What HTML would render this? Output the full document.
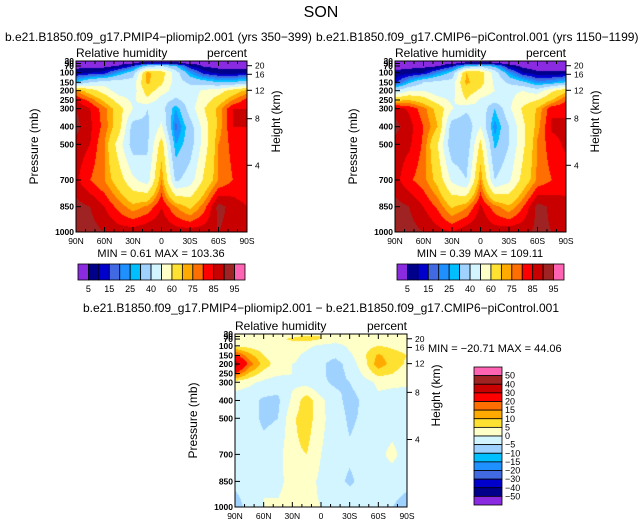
<!DOCTYPE html>
<html><head><meta charset="utf-8">
<style>
body{margin:0;background:#fff;width:643px;height:526px;overflow:hidden;position:relative;font-family:"Liberation Sans",sans-serif}
canvas{position:absolute}
svg{position:absolute;left:0;top:0}
</style></head>
<body>
<canvas id="c1"></canvas>
<canvas id="c2"></canvas>
<canvas id="c3"></canvas>
<svg id="ov" width="643" height="526"></svg>
<script>
// ---- data ----
const lats = ["90N","75N","60N","45N","30N","15N","0","15S","30S","45S","60S","75S","90S"];
const levels = [30,50,70,100,150,200,250,300,400,500,700,850,1000];
const latTicks = ["90N","60N","30N","0","30S","60S","90S"];
const pTicks = [30,50,70,100,150,200,250,300,400,500,700,850,1000];
const hTicks = [20,16,12,8,4];
const rhLevels = [5,10,15,20,25,30,40,50,60,70,75,80,85,90,95];
const rhLabels = ["5","15","25","40","60","75","85","95"];
const diffLevels = [-50,-40,-30,-20,-15,-10,-5,0,5,10,15,20,30,40,50];
const diffLabels = ["50","40","30","20","15","10","5","0","\u22125","\u221210","\u221215","\u221220","\u221230","\u221240","\u221250"];
const rhPlio = [
[2,2,2,2,2,2,2,2,2,2,2,2,2],
[3,3,3,3,5,10,12,8,4,3,3,3,3],
[3,3,3,5,15,35,40,30,10,4,3,3,3],
[8,10,12,25,35,72,65,45,25,12,8,8,8],
[30,40,45,45,45,72,62,45,38,35,30,30,35],
[75,65,55,45,45,65,55,45,45,52,55,65,72],
[85,78,68,55,48,58,45,38,45,55,65,75,82],
[90,85,77,65,50,40,45,25,45,60,72,85,85],
[92,86,78,65,35,38,52,18,35,55,72,85,85],
[88,85,75,55,35,38,65,25,35,55,75,82,85],
[86,80,75,65,52,45,75,38,45,62,75,80,80],
[92,90,85,78,72,76,85,75,68,78,92,88,85],
[92,92,90,88,88,90,90,88,88,88,90,88,85]];
const rhCtrl = [
[1,1,1,1,1,1,1,1,1,1,1,1,1],
[2,2,2,2,4,8,10,7,3,2,2,2,2],
[3,3,3,4,12,30,36,27,8,3,2,2,2],
[6,8,10,22,33,70,65,46,24,10,6,6,6],
[12,28,40,43,44,72,64,48,38,32,22,24,30],
[40,50,50,44,45,66,58,50,48,50,45,58,68],
[68,70,65,54,48,60,48,44,48,55,60,70,80],
[88,84,77,67,51,42,48,30,48,62,71,84,84],
[92,87,80,70,34,32,50,22,40,58,73,86,86],
[88,86,79,60,32,32,63,28,40,58,76,83,86],
[87,81,77,67,48,40,75,40,48,64,76,80,82],
[92,90,85,79,69,74,86,77,71,80,92,89,87],
[93,92,90,87,85,89,90,88,89,89,91,90,88]];
const rhDiff = [
[2,2,2,2,2,2,2,2,2,2,2,2,2],
[2,2,2,2,4,6,5,3,2,2,3,2,2],
[2,2,2,4,6,7,5,3,2,3,5,4,3],
[4,3,2,2,2,1,-1,-2,1,3,5,4,3],
[22,12,5,2,1,-1,-3,-4,-1,4,11,7,5],
[36,18,8,2,0,-1,-4,-7,-3,3,13,8,4],
[20,9,3,1,0,-2,-4,-7,-4,1,7,5,2],
[2,1,-1,-3,-1,-2,-4,-6,-5,-2,1,1,1],
[-2,-3,-6,-6,1,8,1,-3,-7,-4,-1,-2,-3],
[-2,-3,-6,-5,4,8,1,-2,-6,-4,-1,-2,-2],
[-2,-2,-3,-2,4,5,0,-2,-4,-3,-1,1,-2],
[-2,-1,0,-2,3,2,-1,-3,-6,-3,-1,-2,-3],
[-10,-1,0,1,3,1,0,-1,-1,-1,-2,-5,-8]];
// ---- styling ----
const cols = ["#8A2BE2","#00008B","#0000CD","#4169E1","#1E90FF","#00BFFF","#A0D2FF","#D2F5FF","#FFFFC8","#FFE132","#FFAA00","#FF6E00","#FF0000","#C80000","#A02323","#FF64B4"];
const pOff = {30:0,50:2.5,70:5,100:11.7,150:21.3,200:29.7,250:39,300:47.7,400:65.7,500:83.3,700:119,850:145.7,1000:171};
const hOff = {20:4.7,16:13.3,12:29.3,8:57.7,4:104.3};
const NS="http://www.w3.org/2000/svg";
const ov=document.getElementById('ov');
function el(tag,attrs,txt){const e=document.createElementNS(NS,tag);for(const k in attrs)e.setAttribute(k,attrs[k]);if(txt!==undefined)e.textContent=txt;ov.appendChild(e);return e;}
function hex(c){return [parseInt(c.substr(1,2),16),parseInt(c.substr(3,2),16),parseInt(c.substr(5,2),16)];}
function colorFor(v,lv){let i=0;while(i<lv.length&&v>=lv[i])i++;return cols[i];}
function levelY(k,h){return pOff[levels[k]]*h/171;}
function drawField(id,x,y,w,h,grid,lv){
  const c=document.getElementById(id);c.width=w;c.height=h;c.style.left=x+'px';c.style.top=y+'px';
  const ctx=c.getContext('2d');const img=ctx.createImageData(w,h);
  const nL=lats.length,nP=levels.length;
  for(let yi=0;yi<h;yi++){
    let yy=yi+0.5,k=0;while(k<nP-2&&levelY(k+1,h)<yy)k++;
    const y0=levelY(k,h),y1=levelY(k+1,h);let fy=(yy-y0)/(y1-y0);fy=Math.max(0,Math.min(1,fy));
    for(let xi=0;xi<w;xi++){
      const fx=(xi+0.5)/w*(nL-1);let j=Math.min(nL-2,Math.floor(fx));const tx=fx-j;
      const v=(grid[k][j]*(1-tx)+grid[k][j+1]*tx)*(1-fy)+(grid[k+1][j]*(1-tx)+grid[k+1][j+1]*tx)*fy;
      const rgb=hex(colorFor(v,lv));const o=(yi*w+xi)*4;
      img.data[o]=rgb[0];img.data[o+1]=rgb[1];img.data[o+2]=rgb[2];img.data[o+3]=255;
    }
  }
  ctx.putImageData(img,0,0);
}
function drawAxes(x,y,w,h,tag){
  el('rect',{x:x,y:y,width:w,height:h,fill:'none',stroke:'#000','stroke-width':1,});
  pTicks.forEach(p=>{const yy=y+pOff[p]*h/171;
    el('line',{x1:x,x2:x+5,y1:yy,y2:yy,stroke:'#000','stroke-width':1});
    el('text',{x:x-2,y:yy+3,'font-size':8.5,'text-anchor':'end','font-weight':'bold',},String(p));});
  hTicks.forEach(hh=>{const yy=y+hOff[hh]*h/171;
    el('line',{x1:x+w,x2:x+w+5,y1:yy,y2:yy,stroke:'#000','stroke-width':1});
    el('text',{x:x+w+8,y:yy+3,'font-size':8.5,},String(hh));});
  for(let i=0;i<=18;i++){const xx=x+w*i/18,len=(i%3===0)?5:3;
    el('line',{x1:xx,x2:xx,y1:y+h,y2:y+h-len,stroke:'#000','stroke-width':1});
    el('line',{x1:xx,x2:xx,y1:y,y2:y+len,stroke:'#000','stroke-width':1});}
  latTicks.forEach((t,i)=>{el('text',{x:x+w*i/6,y:y+h+12,'font-size':8.5,'text-anchor':'middle',},t);});
  el('text',{x:0,y:0,'font-size':12,'text-anchor':'middle',transform:`translate(${x-38},${y+h/2}) rotate(-90)`,},'Pressure (mb)');
  el('text',{x:0,y:0,'font-size':12,'text-anchor':'middle',transform:`translate(${x+w+33},${y+h/2-25}) rotate(-90)`,},'Height (km)');
  el('text',{x:x,y:y-4,'font-size':12,},'Relative humidity');
  el('text',{x:x+w,y:y-4,'font-size':12,'text-anchor':'end',},'percent');
}
function hBar(x,y,w,h,tag){const bw=w/16;
  cols.forEach((c,i)=>el('rect',{x:x+i*bw,y:y,width:bw,height:h,fill:c,stroke:'#000','stroke-width':0.8,}));
  rhLabels.forEach((t,i)=>el('text',{x:x+(2*i+1)*bw,y:y+h+12,'font-size':9,'text-anchor':'middle',},t));
}
// titles
el('text',{x:321,y:17,'font-size':16,'text-anchor':'middle',},'SON');
el('text',{x:5,y:41,'font-size':12,},'b.e21.B1850.f09_g17.PMIP4\u2212pliomip2.001 (yrs 350\u2212399)');
el('text',{x:316,y:41,'font-size':12,},'b.e21.B1850.f09_g17.CMIP6\u2212piControl.001 (yrs 1150\u22121199)');
el('text',{x:321,y:312,'font-size':12,'text-anchor':'middle',},'b.e21.B1850.f09_g17.PMIP4\u2212pliomip2.001 \u2212 b.e21.B1850.f09_g17.CMIP6\u2212piControl.001');
// panels
drawField('c1',76,61,171,171,rhPlio,rhLevels);drawAxes(76,61,171,171,'panel1');
drawField('c2',395,61,171,171,rhCtrl,rhLevels);drawAxes(395,61,171,171,'panel2');
drawField('c3',235,334,172,173,rhDiff,diffLevels);drawAxes(235,334,172,173,'panel3');
el('text',{x:161,y:257,'font-size':11,'text-anchor':'middle',},'MIN =    0.61   MAX = 103.36');
el('text',{x:480,y:257,'font-size':11,'text-anchor':'middle',},'MIN =    0.39   MAX = 109.11');
el('text',{x:428,y:352,'font-size':11,},'MIN = \u221220.71   MAX =   44.06');
hBar(78,264,167,16,'panel1');hBar(397,264,167,16,'panel2');
// vertical colorbar
(function(){const x=474,y=367,w=28,h=138,bh=h/16;
  for(let i=0;i<16;i++)el('rect',{x:x,y:y+i*bh,width:w,height:bh,fill:cols[15-i],stroke:'#000','stroke-width':0.8,});
  diffLabels.forEach((t,i)=>el('text',{x:x+w+3,y:y+(i+1)*bh+3,'font-size':9,},t));
})();
</script>
</body></html>
